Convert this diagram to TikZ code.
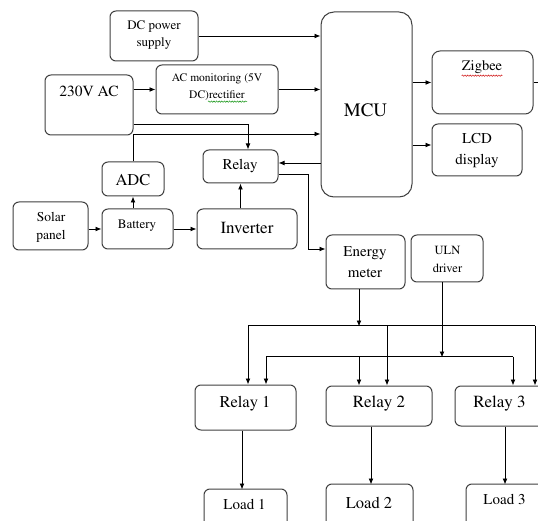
\documentclass[tikz,border=0pt]{standalone}
\usepackage[T1]{fontenc}
\usepackage{times}
\usetikzlibrary{arrows.meta,calc,fit,decorations.pathmorphing}
\begin{document}
\begin{tikzpicture}[x=1pt,y=-1pt,
  bx/.style={draw=black!75, line width=1pt, rounded corners=6pt, inner sep=0pt},
  arr/.style={line width=0.8pt, -{Latex[length=6pt,width=4.8pt]}},
  ln/.style={line width=0.8pt},
  tx/.style={inner sep=0pt, align=center},
  wavy/.style={decorate, decoration={snake, amplitude=0.7pt, segment length=2.6pt}, line width=0.45pt}]
\useasboundingbox (0,0) rectangle (538,521);
\clip (0,0) rectangle (538,521);
\fill[white] (0,0) rectangle (538,521);

% boxes
\node[bx, fit={(110,11) (198,61)}] (dc) {};
\node[bx, fit={(45,75) (133,135)}] (ac) {};
\node[bx, fit={(156,65) (278,114)}] (acm) {};
\node[bx, rounded corners=13pt, fit={(321,12) (412,197)}] (mcu) {};
\node[bx, rounded corners=8pt, fit={(432,51) (533,114)}] (zig) {};
\node[bx, fit={(432,124) (522,176)}] (lcd) {};
\node[bx, fit={(203,150) (278,183)}] (rl) {};
\node[bx, fit={(102,162) (164,196)}] (adc) {};
\node[bx, fit={(13,202) (88,250)}] (sol) {};
\node[bx, fit={(102,209) (173,249)}] (bat) {};
\node[bx, fit={(197,209) (297,249)}] (inv) {};
\node[bx, fit={(326,235) (405,289)}] (en) {};
\node[bx, fit={(411,235) (483,282)}] (uln) {};
\node[bx, fit={(195,385) (296,430)}] (r1) {};
\node[bx, fit={(326,386) (432,426)}] (r2) {};
\node[bx, fit={(455,386) (548,426)}] (r3) {};
\node[bx, fit={(204,489) (287,535)}] (l1) {};
\node[bx, fit={(326,484) (413,535)}] (l2) {};
\node[bx, fit={(466,484) (548,535)}] (l3) {};

% texts
\node[tx, font=\fontsize{13}{17}\selectfont] (dct) at (154,35.5) {DC power\\supply};
\node[tx, font=\fontsize{15.5}{18}\selectfont] (act) at (89,91) {230V AC};
\node[tx, font=\fontsize{11.5}{17}\selectfont] (acmt) at (217,87) {AC monitoring (5V\\DC)rectifier};
\node[tx, font=\fontsize{19}{22}\selectfont] (mcut) at (365.5,110) {MCU};
\node[tx, font=\fontsize{14.5}{18}\selectfont] (zigt) at (482,67) {Zigbee};
\node[tx, font=\fontsize{15}{21}\selectfont] (lcdt) at (477,150.5) {LCD\\display};
\node[tx, font=\fontsize{15}{18}\selectfont] (rlt) at (240,166) {Relay};
\node[tx, font=\fontsize{16.5}{18}\selectfont] (adct) at (133,180) {ADC};
\node[tx, font=\fontsize{13.5}{18}\selectfont] (solt) at (51,227) {Solar\\panel};
\node[tx, font=\fontsize{13}{18}\selectfont] (batt) at (137,226) {Battery};
\node[tx, font=\fontsize{17}{18}\selectfont] (invt) at (247,228) {Inverter};
\node[tx, font=\fontsize{15}{21}\selectfont] (ent) at (365,262.5) {Energy\\meter};
\node[tx, font=\fontsize{12.5}{18}\selectfont] (ulnt) at (447.5,259) {ULN\\driver};
\node[tx, font=\fontsize{16.5}{18}\selectfont] (r1t) at (245,404) {Relay 1};
\node[tx, font=\fontsize{17}{18}\selectfont] (r2t) at (379,404) {Relay 2};
\node[tx, font=\fontsize{17}{18}\selectfont] (r3t) at (499.5,404) {Relay 3};
\node[tx, font=\fontsize{15}{18}\selectfont] (l1t) at (244.5,504.5) {Load 1};
\node[tx, font=\fontsize{16.5}{18}\selectfont] (l2t) at (369,502.5) {Load 2};
\node[tx, font=\fontsize{15}{18}\selectfont] (l3t) at (504.5,499.5) {Load 3};

% spell-check underlines
\draw[wavy, green!55!black] ($(acmt.south)+(-9,1)$) -- ++(39,0);
\draw[wavy, red!80!black] ($(zigt.south west)+(0,2)$) -- ($(zigt.south east)+(0,2)$);

% connectors
\draw[arr] (dc.east) -- (dc.east -| mcu.west);
\draw[arr] (ac.east |- acm.west) -- (acm.west);
\draw[arr] (acm.east) -- (acm.east -| mcu.west);
\draw[arr] ($(ac.east)+(0,19)$) -| ($(rl.north)+(7.5,0)$);
\draw[arr] (adc.north) |- ($(mcu.west)+(0,29.5)$);
\draw[arr] ($(mcu.west)+(0,58.5)$) -- ($(rl.east)+(0,-3.5)$);
\draw[arr] (mcu.east |- zig.west) -- (zig.west);
\draw[arr] ($(mcu.east)+(0,40.5)$) -- ($(lcd.west)+(0,-5)$);
\draw[ln] (zig.east) -- ++(8,0);
\draw[arr] (sol.east |- bat.west) -- (bat.west);
\draw[arr] (adc.south |- bat.north) -- (adc.south);
\draw[arr] (bat.east) -- (inv.west);
\draw[arr] (rl.south |- inv.north) -- (rl.south);
\draw[arr] ($(rl.east)+(0,7.5)$) -- ++(30,0) |- ($(en.west)+(0,-13)$);

% energy meter bus
\draw[arr] ($(en.south)+(-6.5,0)$) -- ++(0,37);
\draw[ln] ($(r1.north)+(2.5,-59)$) -- ($(r3.north)+(33.5,-60)$);
\draw[arr] ($(r1.north)+(2.5,-59)$) -- ($(r1.north)+(2.5,0)$);
\draw[arr] ($(r2.north)+(8,-60)$) -- ($(r2.north)+(8,0)$);
\draw[arr] ($(r3.north)+(33.5,-60)$) -- ($(r3.north)+(33.5,0)$);

% ULN bus
\draw[arr] ($(uln.south)+(-5,0)$) -- ++(0,75);
\draw[ln] ($(r1.north)+(20.5,-28)$) -- ($(r3.north)+(11.5,-29)$);
\draw[arr] ($(r1.north)+(20.5,-28)$) -- ($(r1.north)+(20.5,0)$);
\draw[arr] ($(r2.north)+(-20,-29)$) -- ($(r2.north)+(-20,0)$);
\draw[arr] ($(r3.north)+(11.5,-29)$) -- ($(r3.north)+(11.5,0)$);

% relays to loads
\draw[arr] ($(r1.south)+(-3.5,0)$) -- ++(0,59);
\draw[arr] ($(r2.south)+(-8,0)$) -- ++(0,58);
\draw[arr] ($(r3.south)+(3.5,0)$) -- ++(0,58);
\end{tikzpicture}
\end{document}
